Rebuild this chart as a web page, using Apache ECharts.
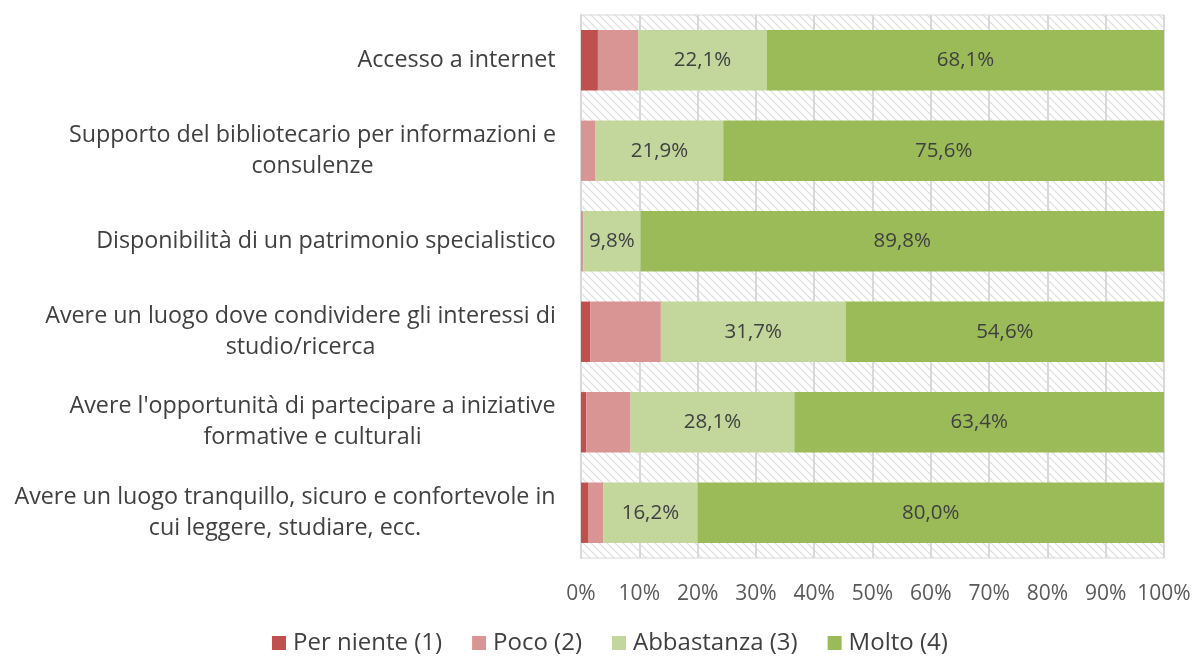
<!DOCTYPE html>
<html>
<head>
<meta charset="utf-8">
<script src="https://cdn.jsdelivr.net/npm/echarts@6/dist/echarts.min.js"></script>
<style>html,body{margin:0;padding:0;background:#fff;}#c{width:1194px;height:657px;}</style>
</head>
<body>
<div id="c"></div>
<script>
var categories = [
  "Accesso a internet",
  "Supporto del bibliotecario per informazioni e\nconsulenze",
  "Disponibilità di un patrimonio specialistico",
  "Avere un luogo dove condividere gli interessi di\nstudio/ricerca",
  "Avere l'opportunità di partecipare a iniziative\nformative e culturali",
  "Avere un luogo tranquillo, sicuro e confortevole in\ncui leggere, studiare, ecc."
];
var seriesNames = ["Per niente (1)", "Poco (2)", "Abbastanza (3)", "Molto (4)"];
var perNiente = [2.9, 0, 0, 1.6, 0.9, 1.2];
var poco = [6.9, 2.5, 0.4, 12.1, 7.6, 2.6];
var abbastanza = [22.1, 21.9, 9.8, 31.7, 28.1, 16.2];
var molto = [68.1, 75.6, 89.8, 54.6, 63.4, 80.0];
var tickLabels = ["0%","10%","20%","30%","40%","50%","60%","70%","80%","90%","100%"];

var FONT = "Open Sans";
var CAT_SIZE = 23.3;
var AXIS_SIZE = 21;
var DATA_SIZE = 20.5;
var LEG_SIZE = 24;
var colors = ["#C0504D", "#D99594", "#C3D69B", "#9BBB59"];

// hatch pattern
var pc = document.createElement('canvas');
pc.width = 8; pc.height = 8;
var pctx = pc.getContext('2d');
pctx.fillStyle = '#ffffff'; pctx.fillRect(0,0,8,8);
pctx.strokeStyle = '#dcdcdc'; pctx.lineWidth = 1.1;
pctx.beginPath();
pctx.moveTo(-1,-1); pctx.lineTo(9,9);
pctx.moveTo(-1,7); pctx.lineTo(1,9);
pctx.moveTo(7,-1); pctx.lineTo(9,1);
pctx.stroke();

// measure for centered multi-line labels
var mc = document.createElement('canvas').getContext('2d');
mc.font = CAT_SIZE + 'px "' + FONT + '"';
var rich = {};
categories.forEach(function(c, i){
  var lines = c.split('\n');
  var w = 0;
  lines.forEach(function(l){ w = Math.max(w, mc.measureText(l).width); });
  rich['c' + i] = {width: Math.ceil(w), align: 'center', fontSize: CAT_SIZE, fontFamily: FONT, color: '#404040', lineHeight: 31};
});

function fmtPct(v){ return v.toFixed(1).replace('.', ',') + '%'; }

var data = [perNiente, poco, abbastanza, molto];
var series = data.map(function(arr, i){
  return {
    name: seriesNames[i],
    type: 'bar',
    stack: 'total',
    barWidth: '66.7%',
    itemStyle: {color: colors[i]},
    label: {
      show: i >= 2,
      position: 'inside',
      color: '#404040',
      fontFamily: FONT,
      fontSize: DATA_SIZE,
      formatter: function(p){ return fmtPct(p.value); }
    },
    emphasis: {disabled: true},
    data: arr
  };
});

var chart = echarts.init(document.getElementById('c'), null, {renderer: 'canvas'});
chart.setOption({
  animation: false,
  textStyle: {fontFamily: FONT},
  grid: {
    left: 581, right: 30, top: 15, bottom: 99,
    outerBoundsMode: 'none',
    containLabel: false,
    show: true,
    backgroundColor: {image: pc, repeat: 'repeat'},
    borderColor: '#d9d9d9', borderWidth: 1
  },
  legend: {
    top: 631,
    left: 272,
    padding: 0,
    itemWidth: 14, itemHeight: 14, itemGap: 30,
    icon: 'rect',
    textStyle: {fontFamily: FONT, fontSize: LEG_SIZE, color: '#404040', padding: [0, 0, 0, 2]},
    data: seriesNames
  },
  xAxis: {
    type: 'value',
    min: 0, max: 100, interval: 10,
    axisLine: {show: false},
    axisTick: {show: false},
    splitLine: {show: true, lineStyle: {color: '#d9d9d9', width: 2}},
    axisLabel: {
      color: '#595959', fontFamily: FONT, fontSize: AXIS_SIZE, margin: 26,
      formatter: function(v){ return tickLabels[Math.round(v/10)]; }
    }
  },
  yAxis: {
    type: 'category',
    inverse: true,
    data: categories,
    axisLine: {show: true, lineStyle: {color: '#d9d9d9', width: 2}},
    axisTick: {show: false},
    axisLabel: {
      margin: 25,
      align: 'right',
      formatter: function(v, idx){
        var lines = v.split('\n');
        return lines.map(function(l){ return '{c' + idx + '|' + l + '}'; }).join('\n');
      },
      rich: rich
    }
  },
  series: series
});
</script>
</body>
</html>
